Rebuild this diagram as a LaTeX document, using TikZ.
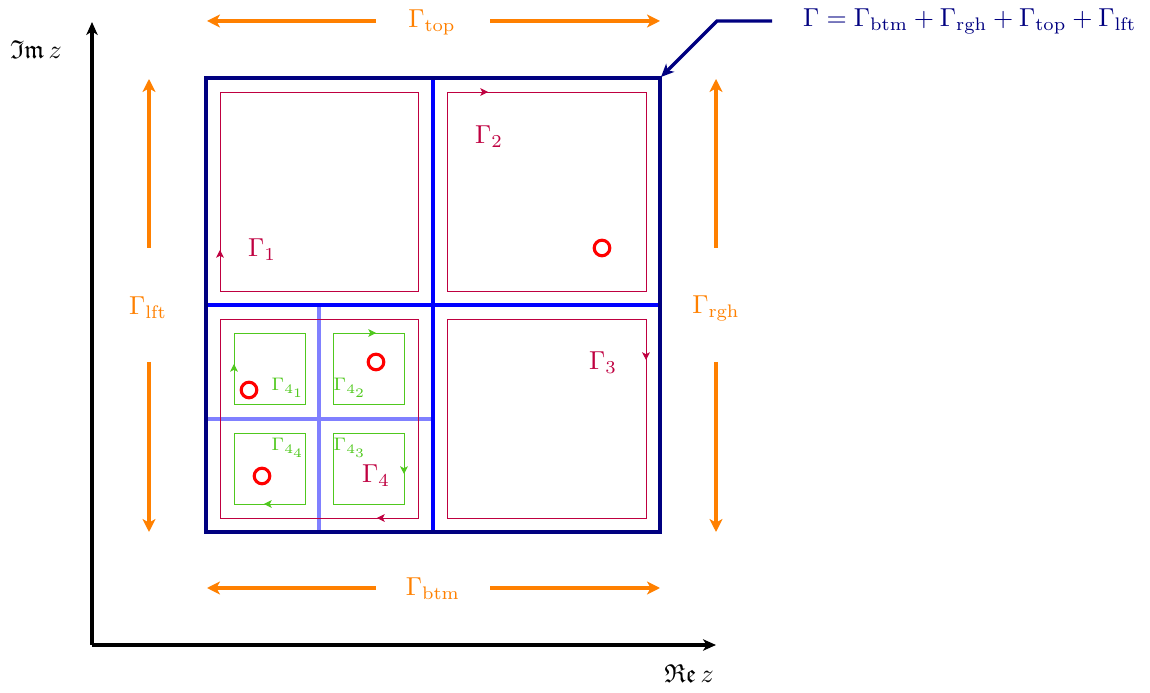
\documentclass[tikz,border=0pt]{standalone}
\usepackage{amssymb}
\usetikzlibrary{arrows.meta}
\definecolor{frame}{RGB}{0,0,128}
\definecolor{grid}{RGB}{0,0,255}
\definecolor{subgrid}{RGB}{128,128,255}
\definecolor{contour}{RGB}{191,0,64}
\definecolor{subcontour}{RGB}{80,200,30}
\definecolor{side}{RGB}{255,128,0}
\begin{document}
\begin{tikzpicture}[x=0.385pt,y=-0.385pt,
  axis/.style={line width=1.25pt,-{Stealth[length=5pt,width=4.4pt,inset=1.4pt]}},
  sidearrow/.style={side,line width=1.25pt,-{Stealth[length=5pt,width=5pt,inset=1.4pt]}},
  sidelabel/.style={text=side,inner sep=1pt},
  thickline/.style={line width=1.3pt},
  contourbox/.style={contour,line width=0.35pt},
  contourtip/.style={contour,line width=0.35pt,-{Stealth[length=3pt,width=3pt,inset=0.8pt]}},
  contourlabel/.style={text=contour,inner sep=1pt},
  subbox/.style={subcontour,line width=0.35pt},
  subtip/.style={subcontour,line width=0.35pt,-{Stealth[length=3pt,width=3pt,inset=0.8pt]}},
  sublabel/.style={text=subcontour,inner sep=1pt,font=\scriptsize},
  pole/.style={red,line width=1.2pt},
]
\useasboundingbox (0,0) rectangle (1150,693);

% axes
\coordinate (origin) at (92,645);
\coordinate (yend) at (92,22);
\coordinate (xend) at (716,645);
\draw[axis] (origin) -- (yend);
\draw[axis] (origin) -- (xend);
\node (imlabel) at (36,50) {$\mathfrak{Im}\,z$};
\node (relabel) at (689,674) {$\mathfrak{Re}\,z$};

% fine grid of the lower left quarter
\draw[subgrid,thickline] (319,305) -- (319,532);
\draw[subgrid,thickline] (206,419) -- (433,419);

% quarter grid
\draw[grid,thickline] (433,78) -- (433,532);
\draw[grid,thickline] (206,305) -- (660,305);

% outer contour
\draw[frame,thickline] (206,78) rectangle (660,532);

% quarter contours
\draw[contourbox] (220,92) rectangle (418,291);
\draw[contourbox] (447,92) rectangle (646,291);
\draw[contourbox] (447,319) rectangle (646,518);
\draw[contourbox] (220,319) rectangle (418,518);
\draw[contourtip] (220,258) -- (220,250);
\draw[contourtip] (479,92) -- (488,92);
\draw[contourtip] (646,352) -- (646,360);
\draw[contourtip] (386,518) -- (377,518);
\node[contourlabel] (g1) at (262,250) {$\Gamma_1$};
\node[contourlabel] (g2) at (489,137) {$\Gamma_2$};
\node[contourlabel] (g3) at (603,363) {$\Gamma_3$};
\node[contourlabel] (g4) at (376,476) {$\Gamma_4$};

% contours of the subdivided quarter
\draw[subbox] (234,333) rectangle (305,404);
\draw[subbox] (333,333) rectangle (404,404);
\draw[subbox] (333,433) rectangle (404,504);
\draw[subbox] (234,433) rectangle (305,504);
\draw[subtip] (234,372) -- (234,364);
\draw[subtip] (368,333) -- (376,333);
\draw[subtip] (404,466) -- (404,474);
\draw[subtip] (272,504) -- (264,504);
\node[sublabel] (g41) at (288,388) {$\Gamma_{4_1}$};
\node[sublabel] (g42) at (350,388) {$\Gamma_{4_2}$};
\node[sublabel] (g43) at (350,448) {$\Gamma_{4_3}$};
\node[sublabel] (g44) at (288,448) {$\Gamma_{4_4}$};

% poles
\draw[pole] (602,248) circle[radius=7.8];
\draw[pole] (376,362) circle[radius=7.8];
\draw[pole] (249,390) circle[radius=7.8];
\draw[pole] (262,476) circle[radius=7.8];

% sides of the outer contour
\node[sidelabel] (top) at (432,22) {$\Gamma_{\mathrm{top}}$};
\node[sidelabel] (btm) at (433,589) {$\Gamma_{\mathrm{btm}}$};
\node[sidelabel] (lft) at (148,308) {$\Gamma_{\mathrm{lft}}$};
\node[sidelabel] (rgh) at (716,308) {$\Gamma_{\mathrm{rgh}}$};
\draw[sidearrow] (376,21) -- (207,21);
\draw[sidearrow] (490,21) -- (660,21);
\draw[sidearrow] (376,588) -- (207,588);
\draw[sidearrow] (490,588) -- (660,588);
\draw[sidearrow] (149,248) -- (149,79);
\draw[sidearrow] (149,362) -- (149,532);
\draw[sidearrow] (716,248) -- (716,79);
\draw[sidearrow] (716,362) -- (716,532);

% sum of the sides
\node[text=frame,anchor=west,inner sep=1pt] (sum) at (800,21)
  {$\Gamma=\Gamma_{\mathrm{btm}}+\Gamma_{\mathrm{rgh}}+\Gamma_{\mathrm{top}}+\Gamma_{\mathrm{lft}}$};
\coordinate (leadstart) at (772,21);
\coordinate (leadbend) at (717,21);
\coordinate (corner) at (661,77);
\draw[frame,line width=1.25pt,-{Stealth[length=5pt,width=4.4pt,inset=1.4pt]}]
  (leadstart) -- (leadbend) -- (corner);
\end{tikzpicture}
\end{document}
